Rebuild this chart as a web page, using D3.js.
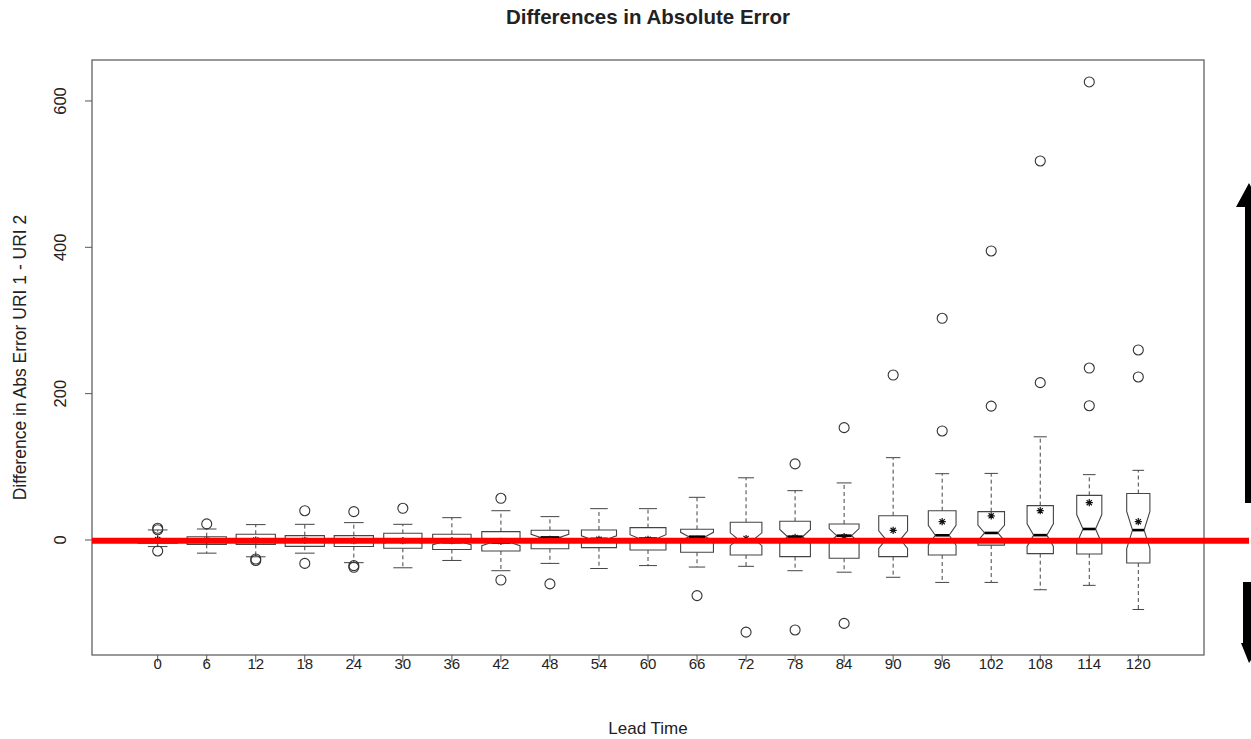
<!DOCTYPE html>
<html>
<head>
<meta charset="utf-8">
<script src="https://cdn.jsdelivr.net/npm/d3@7"></script>
<style>
  body { margin: 0; background: #fff; }
  text { font-family: "Liberation Sans", Arial, sans-serif; fill: #222; }
</style>
</head>
<body>
<svg id="chart" width="1251" height="739"></svg>
<script>
// lead times (x categories)
const leadTimes = [0, 6, 12, 18, 24, 30, 36, 42, 48, 54, 60, 66, 72, 78, 84, 90, 96, 102, 108, 114, 120];
// sample size per group (drives box width and notch)
const counts = [100, 100, 100, 100, 100, 95, 96, 95, 92, 80, 84, 70, 65, 61, 58, 54, 50, 46, 45, 41, 35];
const whiskLo = [-9, -18, -23, -18, -31, -38, -28, -42, -32, -39, -35, -37, -36, -42, -44, -51, -58, -58, -68, -62, -95];
const q1s = [-4.5, -6, -6, -8.7, -9, -11.4, -13, -15, -12, -10.5, -13.7, -16.8, -20.5, -22.8, -25, -22.8, -20.5, -7, -18.7, -19.1, -31.5];
const medians = [-1, -1, 0, -1, -1, -1, -3, -3.6, 3.5, 1.5, 2, 4.5, 1, 4.6, 5.9, 0.5, 6.4, 9.6, 6.6, 15, 13.5];
const q3s = [2, 4.5, 7.8, 5.9, 5.9, 9.1, 7.8, 11.4, 13.2, 13.7, 16.9, 14.6, 24.2, 25.5, 21.9, 33.2, 40, 38.7, 46.9, 61, 63.5];
const whiskHi = [13.7, 15, 21, 21.4, 23.7, 21.4, 30.5, 40, 31.9, 42.8, 42.8, 58.3, 85, 67.4, 78, 112.5, 90.6, 91, 141, 89.3, 95.2];
const means = [0.5, -0.5, 0, -0.5, -1, -1, -1, -2, 1, 1, 1, 1, 2, 3.5, 4.5, 13.2, 25, 33, 40, 51, 25];
const outliers = [
  [14, 16, -15], [22], [-26, -28], [40, -32], [38.7, -35, -37.3], [43.3], [], [57, -54.7], [-60], [], [],
  [-76], [-126], [104, -123], [153.5, -114], [225.5], [149, 303], [183, 395], [215, 518], [183.5, 235, 626], [222.8, 259.7]
];
const yTicks = [0, 200, 400, 600];

const svg = d3.select("#chart");
const plot = { left: 92, right: 1204, top: 60, bottom: 655 };

const x = d3.scaleLinear()
  .domain([-0.34, leadTimes.length + 0.5 + 0.84])
  .range([plot.left, plot.right]);
const y = d3.scaleLinear()
  .domain([-157.2, 656])
  .range([plot.bottom, plot.top]);

const maxN = d3.max(counts);
const fullW = (x(1) - x(0)) * 0.8;
const ink = "#444";

// frame
svg.append("rect")
  .attr("x", plot.left).attr("y", plot.top)
  .attr("width", plot.right - plot.left).attr("height", plot.bottom - plot.top)
  .attr("fill", "none").attr("stroke", "#555").attr("stroke-width", 1.2);

// y axis
const yAxis = svg.append("g");
yAxis.selectAll("line").data(yTicks).join("line")
  .attr("x1", plot.left - 7).attr("x2", plot.left)
  .attr("y1", d => y(d)).attr("y2", d => y(d))
  .attr("stroke", "#555");
yAxis.selectAll("text").data(yTicks).join("text")
  .attr("transform", d => `translate(66,${y(d)}) rotate(-90)`)
  .attr("text-anchor", "middle")
  .style("font-size", "16.5px")
  .text(d => d);

// x axis
const xAxis = svg.append("g");
xAxis.selectAll("line").data(leadTimes).join("line")
  .attr("x1", (d, i) => x(i + 1)).attr("x2", (d, i) => x(i + 1))
  .attr("y1", plot.bottom).attr("y2", plot.bottom + 7)
  .attr("stroke", "#555");
xAxis.selectAll("text").data(leadTimes).join("text")
  .attr("x", (d, i) => x(i + 1))
  .attr("y", 669)
  .attr("text-anchor", "middle")
  .style("font-size", "15px")
  .text(d => d);

// titles
svg.append("text")
  .attr("x", (plot.left + plot.right) / 2).attr("y", 24)
  .attr("text-anchor", "middle")
  .style("font-size", "20.5px").style("font-weight", "bold")
  .text("Differences in Absolute Error");
svg.append("text")
  .attr("x", (plot.left + plot.right) / 2).attr("y", 734)
  .attr("text-anchor", "middle")
  .style("font-size", "17px")
  .text("Lead Time");
svg.append("text")
  .attr("transform", `translate(26,${(plot.top + plot.bottom) / 2}) rotate(-90)`)
  .attr("text-anchor", "middle")
  .style("font-size", "17.5px")
  .text("Difference in Abs Error URI 1 - URI 2");

// boxes
const groups = leadTimes.map((t, i) => ({
  i, t, n: counts[i], lo: whiskLo[i], q1: q1s[i], med: medians[i], q3: q3s[i], hi: whiskHi[i],
  mean: means[i], out: outliers[i]
}));

const addBox = (selection, d) => {
  const cx = x(d.i + 1);
  const w = fullW * Math.sqrt(d.n / maxN) / 2;
  const nh = 1.58 * (d.q3 - d.q1) / Math.sqrt(d.n);
  const g = selection.append("g");

  // whiskers
  [[d.q3, d.hi], [d.q1, d.lo]].forEach(([a, b]) => {
    g.append("line")
      .attr("x1", cx).attr("x2", cx).attr("y1", y(a)).attr("y2", y(b))
      .attr("stroke", ink).attr("stroke-dasharray", "4,3");
    g.append("line")
      .attr("x1", cx - w / 2).attr("x2", cx + w / 2).attr("y1", y(b)).attr("y2", y(b))
      .attr("stroke", ink);
  });

  // notched box, same outline R uses
  const pts = [
    [cx - w, d.q1], [cx - w, d.med - nh], [cx - w / 2, d.med], [cx - w, d.med + nh], [cx - w, d.q3],
    [cx + w, d.q3], [cx + w, d.med + nh], [cx + w / 2, d.med], [cx + w, d.med - nh], [cx + w, d.q1]
  ];
  g.append("path")
    .attr("d", d3.line()(pts.map(p => [p[0], y(p[1])])) + "Z")
    .attr("fill", "#fff").attr("stroke", ink).attr("stroke-width", 1.1);

  g.append("line")
    .attr("x1", cx - w / 2).attr("x2", cx + w / 2)
    .attr("y1", y(d.med)).attr("y2", y(d.med))
    .attr("stroke", "#000").attr("stroke-width", 2.6);

  // mean marker (pch 8 style)
  const my = y(d.mean), r = 3.6;
  g.append("path")
    .attr("d", `M${cx - r},${my}H${cx + r}M${cx},${my - r}V${my + r}` +
      `M${cx - r * 0.72},${my - r * 0.72}L${cx + r * 0.72},${my + r * 0.72}` +
      `M${cx - r * 0.72},${my + r * 0.72}L${cx + r * 0.72},${my - r * 0.72}`)
    .attr("stroke", "#111").attr("stroke-width", 1.2);

  g.selectAll("circle").data(d.out).join("circle")
    .attr("cx", cx).attr("cy", v => y(v)).attr("r", 5)
    .attr("fill", "none").attr("stroke", "#333").attr("stroke-width", 1.1);
};

groups.forEach(d => svg.call(addBox, d));

// red zero line overlay
svg.append("line")
  .attr("x1", plot.left).attr("x2", 1249)
  .attr("y1", y(0) + 0.7).attr("y2", y(0) + 0.7)
  .attr("stroke", "#f00").attr("stroke-width", 6);

// black arrows on the right edge
svg.append("path")
  .attr("d", "M1249,183 L1262,207 L1255,207 L1255,503 L1245,503 L1245,207 L1236,207 Z")
  .attr("fill", "#000");
svg.append("path")
  .attr("d", "M1243,582 L1256,582 L1256,643 L1262,643 L1249,663 L1241,643 L1243,643 Z")
  .attr("fill", "#000");
</script>
</body>
</html>
